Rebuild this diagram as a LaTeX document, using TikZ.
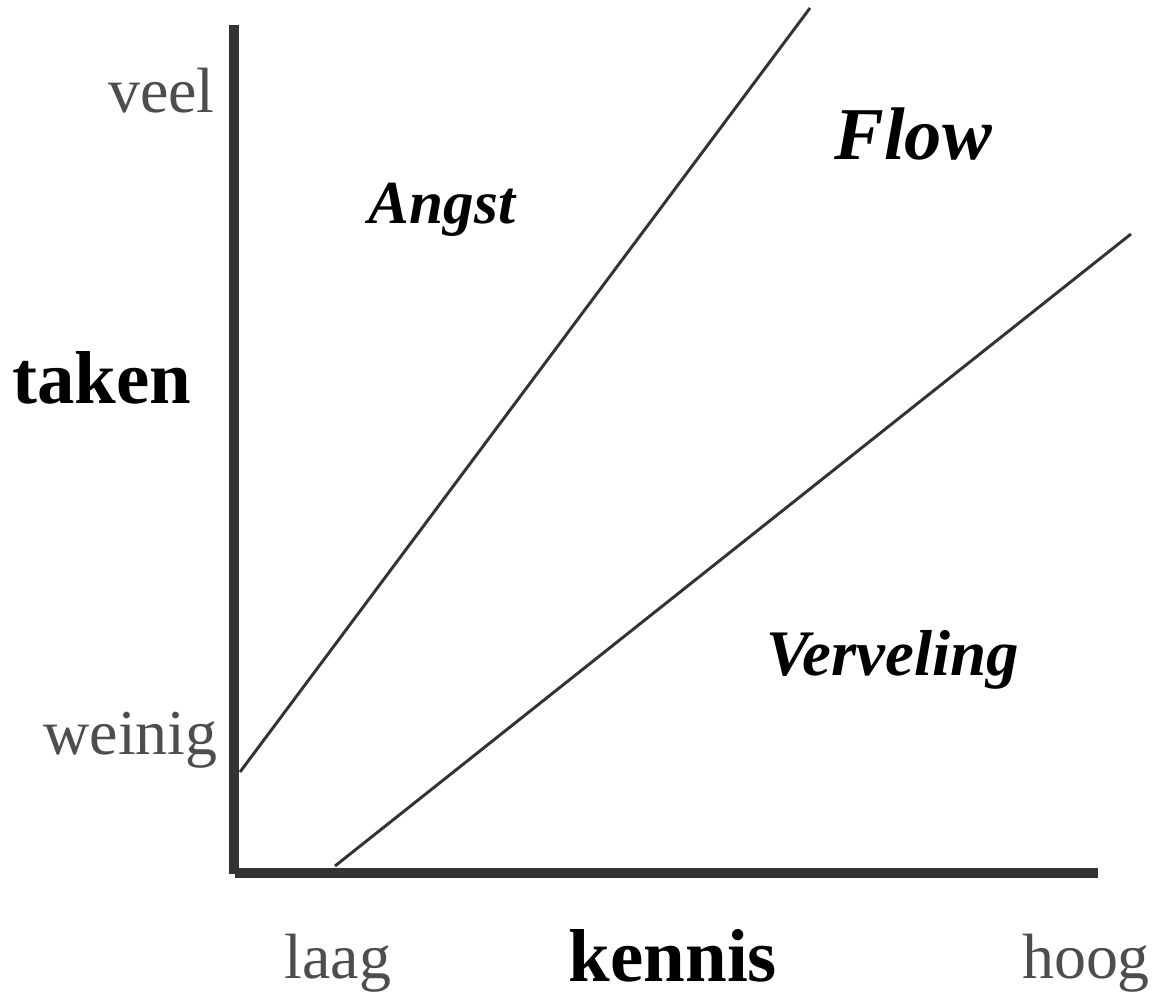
\documentclass[tikz,border=0pt]{standalone}
\usepackage{fontspec}
\setmainfont{Liberation Serif}
\usetikzlibrary{calc}

\definecolor{axisgray}{HTML}{333333}
\definecolor{lblgray}{HTML}{4D4D4D}

\begin{document}
\begin{tikzpicture}[
  x=0.025cm, y=-0.025cm,
  axis/.style={draw=axisgray, line width=7.8pt},
  zone/.style={draw=axisgray, line width=2.1pt},
  ticklbl/.style={text=lblgray, inner sep=0pt, font=\fontsize{45.5}{50}\selectfont},
  axlbl/.style={inner sep=0pt, font=\fontsize{53.3}{60}\selectfont\bfseries},
  zonelbl/.style={inner sep=0pt},
]
\useasboundingbox (0,0) rectangle (1153,992);

% ---------------- axes ----------------
\coordinate (ytop) at (234,25);
\coordinate (ybot) at (234,874);
\coordinate (xbeg) at (235,873);
\coordinate (xend) at (1098,873);
\draw[axis] (ytop) -- (ybot);
\draw[axis] (xbeg) -- (xend);

% ---------------- zone borders ----------------
\coordinate (upA) at (240,772);
\coordinate (upB) at (810,8);
\coordinate (loA) at (335,866);
\coordinate (loB) at (1131,234);
\draw[zone] (upA) -- (upB);
\draw[zone] (loA) -- (loB);

% ---------------- axis labels ----------------
\node[ticklbl, anchor=base east] (veel) at (215,113) {veel};
\node[ticklbl, anchor=base east] (weinig) at (218,754) {weinig};
\node[ticklbl, anchor=base] (laag) at (338,978) {laag};
\node[ticklbl, anchor=base] (hoog) at (1086,978) {hoog};
\node[axlbl, anchor=base] (taken) at (102,403) {taken};
\node[axlbl, anchor=base] (kennis) at (673,981) {kennis};

% ---------------- zones ----------------
\node[zonelbl, anchor=base, font=\fontsize{43.5}{48}\selectfont\bfseries\itshape] (angst) at (442,223) {Angst};
\node[zonelbl, anchor=base, font=\fontsize{53}{58}\selectfont\bfseries\itshape] (flow) at (913,160) {Flow};
\node[zonelbl, anchor=base, font=\fontsize{46.2}{52}\selectfont\bfseries\itshape] (verveling) at (893,675) {Verveling};

\end{tikzpicture}
\end{document}
